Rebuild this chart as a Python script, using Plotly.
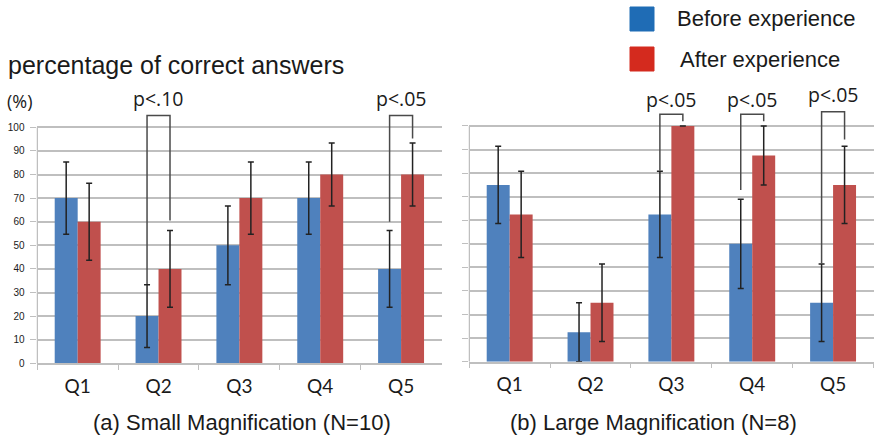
import plotly.graph_objects as go

# ---------------- data ----------------
questions = ["Q1", "Q2", "Q3", "Q4", "Q5"]

small_before = [70, 20, 50, 70, 40]
small_after = [60, 40, 70, 80, 80]
small_before_err = [15.3, 13.3, 16.7, 15.3, 16.3]
small_after_err = [16.3, 16.3, 15.3, 13.3, 13.3]

large_before = [75, 12.5, 62.5, 50, 25]
large_after = [62.5, 25, 100, 87.5, 75]
large_before_err = [16.4, 12.5, 18.3, 18.9, 16.4]
large_after_err = [18.3, 16.4, 0, 12.5, 16.4]

y_ticks = [0, 10, 20, 30, 40, 50, 60, 70, 80, 90, 100]

series_names = ["Before experience", "After experience"]
subtitles = ["(a) Small Magnification (N=10)", "(b) Large Magnification (N=8)"]

# significance brackets: (panel, question index, left leg bottom, right leg bottom, top, label, label y)
brackets = [
    (0, 1, 33.6, 60.5, 105, "p<.10", 112.3),
    (0, 4, 60.0, 95.3, 105, "p<.05", 112.0),
    (1, 2, 81.0, 102.0, 105, "p<.05", 111.3),
    (1, 3, 72.8, 102.0, 105, "p<.05", 111.3),
    (1, 4, 41.7, 94.3, 106, "p<.05", 113.4),
]

# ---------------- styling ----------------
W, H = 877, 437
BLUE = "#4F81BD"
RED = "#C0504D"
LEG_BLUE = "#1F6CB5"
LEG_RED = "#D42A1E"
GRID = "#BFBFBF"
TXT = "#1a1a1a"
BARGAP = 0.432
OFF = (1 - BARGAP) / 4


def px_x(p):
    return p / W


def px_y(p):
    return (H - p) / H


fig = go.Figure()

panels = [
    (small_before, small_after, small_before_err, small_after_err, "x", "y"),
    (large_before, large_after, large_before_err, large_after_err, "x2", "y2"),
]
for i, (b, a, be, ae, xa, ya) in enumerate(panels):
    fig.add_trace(go.Bar(
        x=questions, y=b, name=series_names[0], marker_color=BLUE,
        marker_line_width=0, xaxis=xa, yaxis=ya, showlegend=False,
        error_y=dict(type="data", array=be, visible=True, color="#222222",
                     thickness=1.5, width=3),
    ))
    fig.add_trace(go.Bar(
        x=questions, y=a, name=series_names[1], marker_color=RED,
        marker_line_width=0, xaxis=xa, yaxis=ya, showlegend=False,
        error_y=dict(type="data", array=ae, visible=True, color="#222222",
                     thickness=1.5, width=3),
    ))

YMAX = 116
xdom = [[px_x(36.5), px_x(441.5)], [px_x(468.5), px_x(873.5)]]
ydom = [[px_y(363.3), px_y(363.3 - YMAX * 2.36)], [px_y(361.7), px_y(361.7 - YMAX * 2.357)]]

common_x = dict(
    type="category", showline=True, linecolor=GRID, linewidth=1.5, automargin=False,
    ticks="outside", tickson="boundaries", ticklen=5, tickcolor=GRID, tickwidth=1,
    ticklabelstandoff=5,
    tickfont=dict(family="Lato, Carlito, sans-serif", size=19, color=TXT),
    showgrid=False, fixedrange=True,
)
common_y = dict(
    range=[0, YMAX], tickvals=y_ticks, showgrid=True, gridcolor=GRID, gridwidth=1.5,
    showline=False, zeroline=False, ticks="outside", ticklen=6, tickcolor=GRID,
    automargin=False, ticklabelstandoff=3,
    tickfont=dict(family="Liberation Sans, Arial, sans-serif", size=10, color=TXT),
    fixedrange=True,
)

fig.update_layout(
    width=W, height=H, margin=dict(l=0, r=0, t=0, b=0, autoexpand=False),
    paper_bgcolor="white", plot_bgcolor="white",
    barmode="group", bargap=BARGAP, bargroupgap=0,
    xaxis=dict(domain=xdom[0], anchor="y", **common_x),
    xaxis2=dict(domain=xdom[1], anchor="y2", **common_x),
    yaxis=dict(domain=ydom[0], anchor="x", showticklabels=True, **common_y),
    yaxis2=dict(domain=ydom[1], anchor="x2", showticklabels=False, **common_y),
)
fig.update_yaxes(tickprefix="<b>", ticksuffix="</b>")

shapes = []
annotations = []

# y-axis lines (0..100 only)
for xa, ya in [("x", "y"), ("x2", "y2")]:
    shapes.append(dict(type="line", xref=xa, yref=ya, x0=-0.5, x1=-0.5,
                       y0=0, y1=100, line=dict(color=GRID, width=1.5)))

# brackets
for panel, qi, lb, rb, top, label, ly in brackets:
    xa, ya = ("x", "y") if panel == 0 else ("x2", "y2")
    xl, xr = qi - OFF, qi + OFF
    path = f"M {xl} {lb} L {xl} {top} L {xr} {top} L {xr} {rb}"
    shapes.append(dict(type="path", xref=xa, yref=ya, path=path,
                       line=dict(color="#4a4a4a", width=1.5)))
    annotations.append(dict(x=qi, y=ly, xref=xa, yref=ya, text=label, showarrow=False,
                            font=dict(family="Open Sans, sans-serif", size=19.5, color=TXT),
                            xanchor="center", yanchor="middle"))

# legend (drawn manually)
for (y0, y1), col, name, tx, ty in [((7, 31), LEG_BLUE, series_names[0], 675, 19),
                                     ((47, 71), LEG_RED, series_names[1], 678, 59)]:
    shapes.append(dict(type="rect", xref="paper", yref="paper",
                       x0=px_x(630), x1=px_x(654), y0=px_y(y1), y1=px_y(y0),
                       fillcolor=col, line=dict(color=col, width=1)))
    annotations.append(dict(x=px_x(tx), y=px_y(ty), xref="paper", yref="paper", text=name,
                            showarrow=False, xanchor="left", yanchor="middle",
                            font=dict(family="Liberation Sans, Arial, sans-serif", size=22, color=TXT)))

# titles
annotations.append(dict(x=px_x(6), y=px_y(65), xref="paper", yref="paper",
                        text="percentage of correct answers", showarrow=False,
                        xanchor="left", yanchor="middle",
                        font=dict(family="Liberation Sans, Arial, sans-serif", size=25, color=TXT)))
annotations.append(dict(x=px_x(5), y=px_y(101), xref="paper", yref="paper",
                        text="(%)", showarrow=False, xanchor="left", yanchor="middle",
                        font=dict(family="Open Sans, sans-serif", size=18, color=TXT)))
for cx, txt in [(242, subtitles[0]), (653, subtitles[1])]:
    annotations.append(dict(x=px_x(cx), y=px_y(422), xref="paper", yref="paper",
                            text=txt, showarrow=False, xanchor="center", yanchor="middle",
                            font=dict(family="Liberation Sans, Arial, sans-serif", size=22, color=TXT)))

fig.update_layout(shapes=shapes, annotations=annotations)

fig.write_html(
    "out.html",
    config={"displayModeBar": False},
    post_script="document.body.style.margin='0';document.body.style.padding='0';"
                "document.body.style.overflow='hidden';",
)
